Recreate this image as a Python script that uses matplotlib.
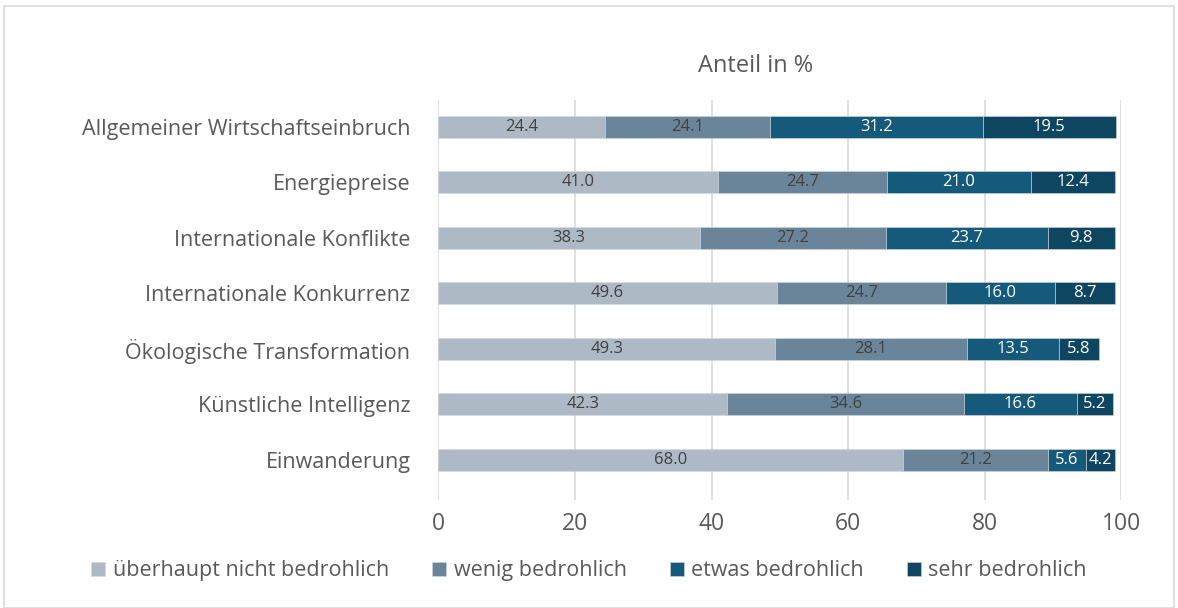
import matplotlib
matplotlib.use("Agg")
import matplotlib.pyplot as plt
from matplotlib.patches import Rectangle

categories = ["Allgemeiner Wirtschaftseinbruch", "Energiepreise", "Internationale Konflikte",
              "Internationale Konkurrenz", "Ökologische Transformation", "Künstliche Intelligenz",
              "Einwanderung"]
series_names = ["überhaupt nicht bedrohlich", "wenig bedrohlich", "etwas bedrohlich", "sehr bedrohlich"]
ueberhaupt = [24.4, 41.0, 38.3, 49.6, 49.3, 42.3, 68.0]
wenig = [24.1, 24.7, 27.2, 24.7, 28.1, 34.6, 21.2]
etwas = [31.2, 21.0, 23.7, 16.0, 13.5, 16.6, 5.6]
sehr = [19.5, 12.4, 9.8, 8.7, 5.8, 5.2, 4.2]
xticks = [0, 20, 40, 60, 80, 100]

colors = ["#adb9c4", "#6a8599", "#155a7a", "#0e4560"]
text_colors = ["#404040", "#404040", "white", "white"]

plt.rcParams['font.family'] = ['Open Sans', 'DejaVu Sans']
fig = plt.figure(figsize=(11.78, 6.08), dpi=100)
fig.patches.append(Rectangle((0.003, 0.0), 0.994, 0.99, transform=fig.transFigure,
                             fill=False, edgecolor="#d9d9d9", linewidth=1.2))
ax = fig.add_axes([0.372, 0.178, 0.580, 0.658])

ys = list(range(len(categories)))
left = [0.0] * len(categories)
for vals, name, c, tc in zip([ueberhaupt, wenig, etwas, sehr], series_names, colors, text_colors):
    ax.barh(ys, vals, left=left, height=0.4, color=c, label=name,
            edgecolor="#d0d8de", linewidth=0.4, zorder=3)
    for y, v, l in zip(ys, vals, left):
        ax.text(l + v / 2, y, f"{v:.1f}", ha="center", va="center", color=tc,
                fontsize=12, zorder=4)
    left = [a + b for a, b in zip(left, vals)]

ax.set_xlim(0, 100)
ax.set_ylim(6.72, -0.49)
ax.set_xticks(xticks)
ax.set_yticks(ys)
ax.set_yticklabels(categories)
ax.tick_params(axis="y", length=0, labelsize=15.5, colors="#595959", pad=20)
ax.tick_params(axis="x", length=0, labelsize=16.5, colors="#595959", pad=9)
ax.grid(axis="x", color="#d9d9d9", linewidth=1.2, zorder=0)
for s in ax.spines.values():
    s.set_visible(False)
ax.set_title("Anteil in %", fontsize=17, color="#595959", pad=20, x=0.465)

fig.legend(loc="center", bbox_to_anchor=(0.5, 0.061), ncol=4, frameon=False,
           fontsize=15.5, labelcolor="#595959", handlelength=0.65, handleheight=0.65,
           handletextpad=0.35, columnspacing=2.0)

fig.savefig("out.png", dpi=100)
